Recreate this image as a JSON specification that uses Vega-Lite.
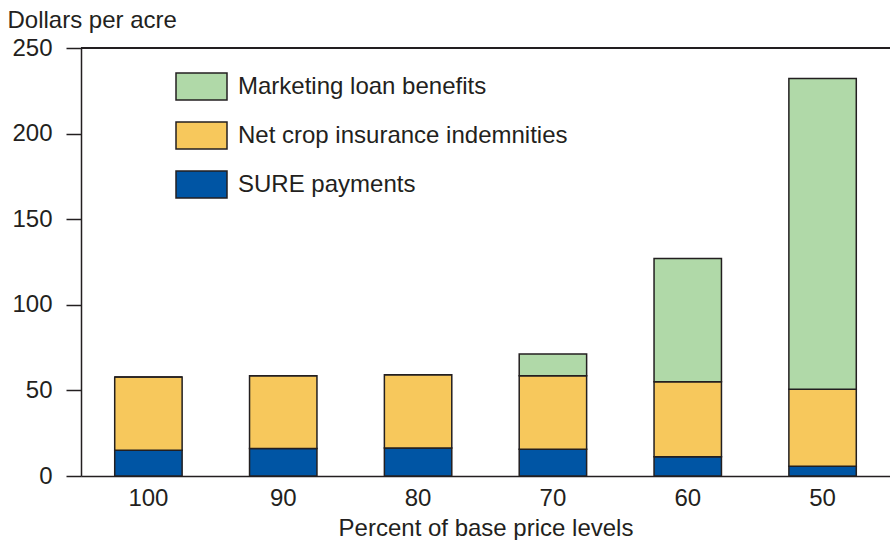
{
  "$schema": "https://vega.github.io/schema/vega-lite/v6.json",
  "width": 809,
  "height": 428,
  "autosize": {"type": "none"},
  "padding": {"left": 81, "top": 48, "right": 0, "bottom": 64},
  "background": "white",
  "config": {"font": "Liberation Sans", "view": {"stroke": null}},
  "data": {
    "values": [
      {"level": "100", "series": "SURE payments", "value": 15.0},
      {"level": "100", "series": "Net crop insurance indemnities", "value": 42.9},
      {"level": "100", "series": "Marketing loan benefits", "value": 0},
      {"level": "90", "series": "SURE payments", "value": 16.0},
      {"level": "90", "series": "Net crop insurance indemnities", "value": 42.5},
      {"level": "90", "series": "Marketing loan benefits", "value": 0},
      {"level": "80", "series": "SURE payments", "value": 16.4},
      {"level": "80", "series": "Net crop insurance indemnities", "value": 42.7},
      {"level": "80", "series": "Marketing loan benefits", "value": 0},
      {"level": "70", "series": "SURE payments", "value": 15.6},
      {"level": "70", "series": "Net crop insurance indemnities", "value": 42.9},
      {"level": "70", "series": "Marketing loan benefits", "value": 12.8},
      {"level": "60", "series": "SURE payments", "value": 11.3},
      {"level": "60", "series": "Net crop insurance indemnities", "value": 43.7},
      {"level": "60", "series": "Marketing loan benefits", "value": 72.1},
      {"level": "50", "series": "SURE payments", "value": 5.7},
      {"level": "50", "series": "Net crop insurance indemnities", "value": 45.0},
      {"level": "50", "series": "Marketing loan benefits", "value": 181.5}
    ]
  },
  "layer": [
    {
      "mark": {"type": "bar", "stroke": "#231f20", "strokeWidth": 1.5},
      "encoding": {
        "x": {
          "field": "level",
          "type": "ordinal",
          "sort": ["100", "90", "80", "70", "60", "50"],
          "scale": {"paddingInner": 0.5, "paddingOuter": 0.25},
          "axis": {
            "title": "Percent of base price levels",
            "labelAngle": 0,
            "ticks": false,
            "labelPadding": 10,
            "labelFontSize": 24,
            "labelColor": "#231f20",
            "titleFontSize": 24,
            "titleFontWeight": "normal",
            "titleColor": "#231f20",
            "titlePadding": 6,
            "domainColor": "#231f20",
            "domainWidth": 1.5
          }
        },
        "y": {
          "field": "value",
          "type": "quantitative",
          "stack": "zero",
          "scale": {"domain": [0, 250], "nice": false},
          "axis": {
            "values": [0, 50, 100, 150, 200, 250],
            "grid": false,
            "title": "Dollars per acre",
            "titleAngle": 0,
            "titleAlign": "left",
            "titleBaseline": "alphabetic",
            "titleX": -74,
            "titleY": -21,
            "titleFontSize": 24,
            "titleFontWeight": "normal",
            "titleColor": "#231f20",
            "labelFontSize": 24,
            "labelColor": "#231f20",
            "tickSize": 15,
            "tickColor": "#231f20",
            "tickWidth": 1.5,
            "labelPadding": 14,
            "domainColor": "#231f20",
            "domainWidth": 1.5
          }
        },
        "color": {
          "field": "series",
          "type": "nominal",
          "scale": {
            "domain": ["Marketing loan benefits", "Net crop insurance indemnities", "SURE payments"],
            "range": ["#b0d9a8", "#f7c85c", "#0055a4"]
          },
          "legend": {
            "orient": "none",
            "legendX": 94,
            "legendY": 12,
            "title": null,
            "padding": 0,
            "symbolType": "M-1,-0.53L1,-0.53L1,0.53L-1,0.53Z",
            "symbolSize": 2601,
            "symbolStrokeColor": "#231f20",
            "symbolStrokeWidth": 1.5,
            "symbolOpacity": 1,
            "labelFontSize": 24,
            "labelColor": "#231f20",
            "labelOffset": 10,
            "labelLimit": 500,
            "rowPadding": 5
          }
        },
        "order": {"field": "series", "sort": "descending"}
      }
    },
    {
      "mark": {"type": "rule", "color": "#231f20", "strokeWidth": 1.5},
      "encoding": {"y": {"datum": 250}}
    }
  ]
}
